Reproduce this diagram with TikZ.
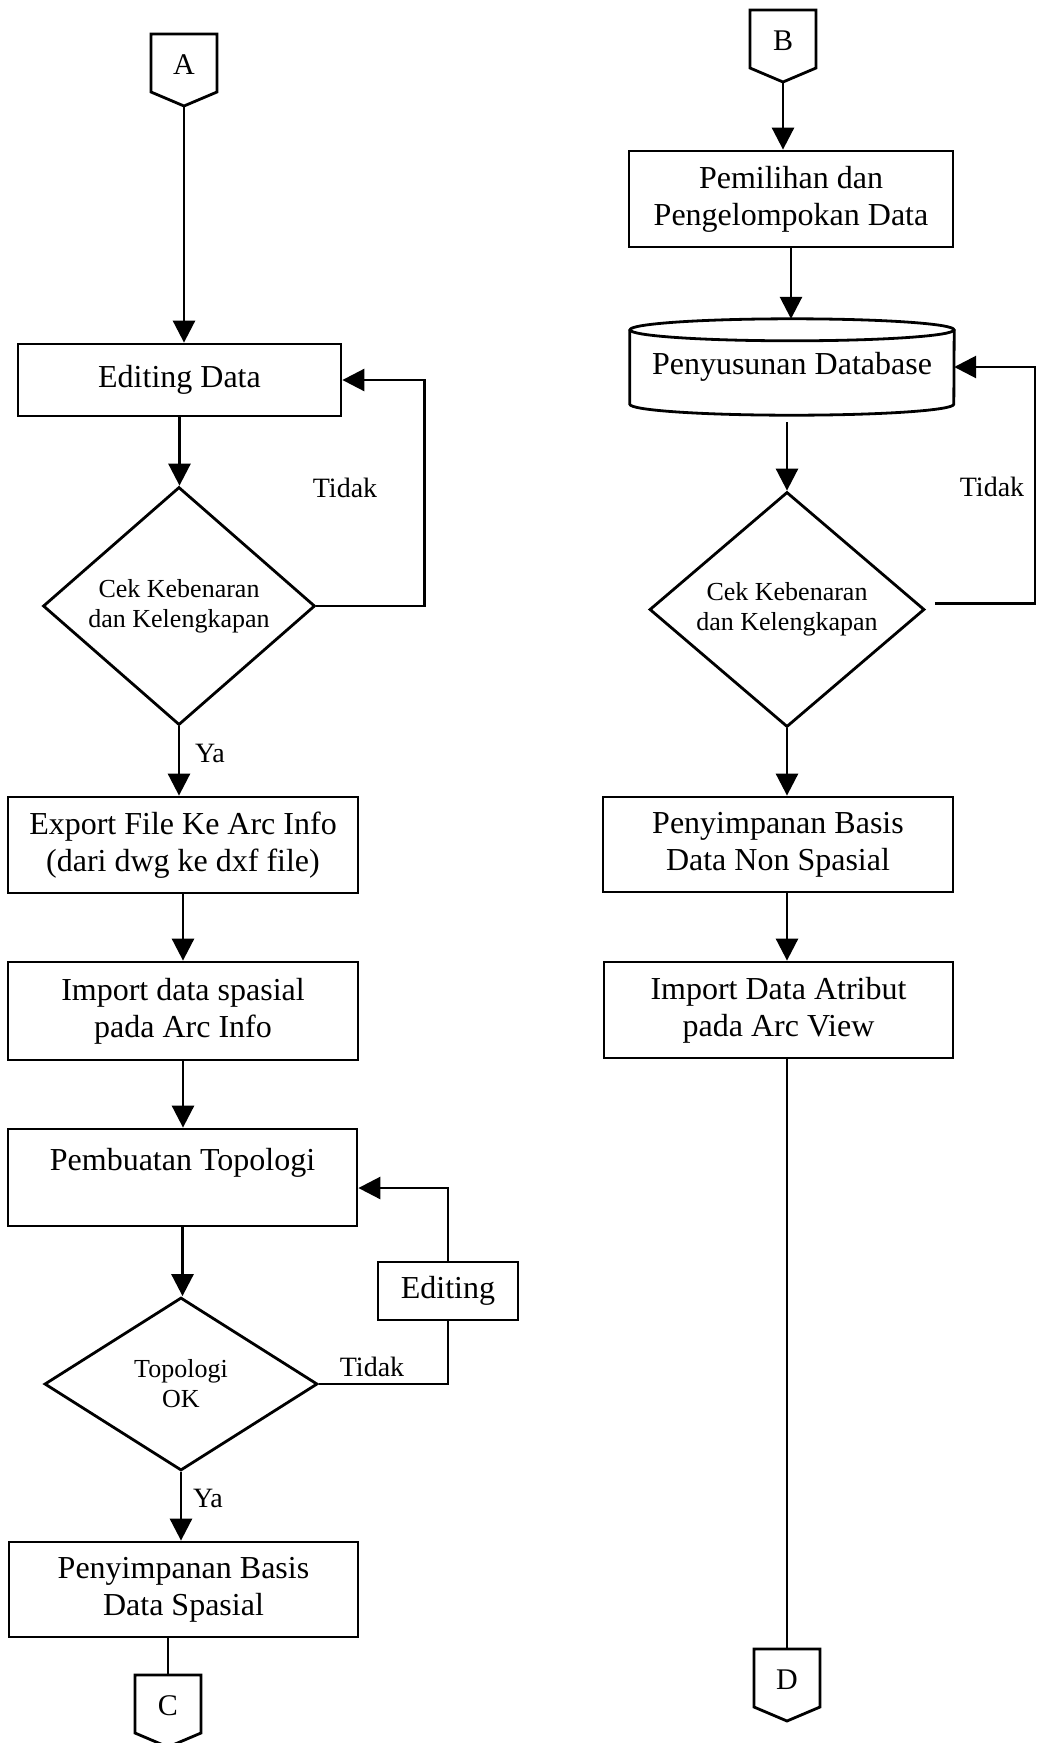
\documentclass[tikz,border=0pt]{standalone}
\usepackage{fontspec}
\setmainfont{Liberation Serif}
\usetikzlibrary{arrows.meta,shapes.geometric}

% off-page connector: name, centre x, top y, letter
\newcommand\offpage[4]{%
  \draw[line] (#2-33,#3) -- (#2+33,#3) -- (#2+33,#3+58) -- (#2,#3+72) -- (#2-33,#3+58) -- cycle;
  \node[conn] (#1) at (#2,#3+31) {#4};
  \coordinate (#1-top) at (#2,#3);
  \coordinate (#1-tip) at (#2,#3+72);
}

\begin{document}
\begin{tikzpicture}[x=1pt,y=-1pt,
  line/.style={line width=2.8pt},
  flow/.style={line, -{Triangle[length=22pt,width=22pt]}},
  proc/.style={draw, line, rectangle, inner sep=0pt, align=center,
               font=\fontsize{32}{37}\selectfont},
  decide/.style={draw, line, diamond, inner sep=0pt, align=center,
               font=\fontsize{26}{30}\selectfont},
  lbl/.style={font=\fontsize{28}{32}\selectfont, inner sep=0pt},
  conn/.style={font=\fontsize{30}{34}\selectfont, inner sep=0pt},
]
\fill[white] (0,0) rectangle (1037,1743);
\useasboundingbox (0,0) rectangle (1037,1743);

% ---------- left column: spatial data ----------
\offpage{A}{184}{34}{A}
\node[proc, minimum width=323, minimum height=72] (edit) at (179.5,380) {Editing Data};
\node[decide, minimum width=272, minimum height=238] (chk1) at (179,606) {Cek Kebenaran\\dan Kelengkapan};
\node[proc, minimum width=350, minimum height=96] (exp) at (183,845) {Export File Ke Arc Info\\(dari dwg ke dxf file)};
\node[proc, minimum width=350, minimum height=98] (imp) at (183,1011) {Import data spasial\\pada Arc Info};
\node[proc, minimum width=349, minimum height=97] (topo) at (182.5,1177.5) {Pembuatan Topologi\\[0pt]\mbox{}};
\node[decide, minimum width=273, minimum height=173] (tok) at (181,1384) {Topologi\\OK};
\node[proc, minimum width=140, minimum height=58] (edt) at (448,1291) {Editing};
\node[proc, minimum width=349, minimum height=95] (sps) at (183.5,1589.5) {Penyimpanan Basis\\Data Spasial};
\offpage{C}{168}{1675}{C}

\node[lbl] (t1) at (345,488) {Tidak};
\node[lbl] (y1) at (210,753) {Ya};
\node[lbl] (t3) at (372,1367) {Tidak};
\node[lbl] (y2) at (208,1498) {Ya};

\draw[flow] (A-tip) -- (A-tip |- edit.north);
\draw[flow] (edit.south) -- (edit.south |- chk1.north);
\draw[flow] (chk1.south) -- (chk1.south |- exp.north);
\draw[flow] (exp.south) -- (exp.south |- imp.north);
\draw[flow] (imp.south) -- (imp.south |- topo.north);
\draw[flow] (topo.south) -- (topo.south |- tok.north);
\draw[flow] (tok.south) -- (tok.south |- sps.north);
\draw[line] (C-top |- sps.south) -- (C-top);
\draw[flow] (chk1.east) -- ++(108,0) |- (edit.east);
\draw[line] (tok.east) -| (edt.south);
\draw[flow] (edt.north) |- ([yshift=-10.5pt]topo.east);

% ---------- right column: attribute data ----------
\offpage{B}{783}{10}{B}
\node[proc, minimum width=324, minimum height=96] (pil) at (791,199) {Pemilihan dan\\Pengelompokan Data};
\node[inner sep=0pt, minimum width=324, minimum height=96,
      font=\fontsize{32}{37}\selectfont] (db) at (792,367) {Penyusunan Database};
\draw[line] ([yshift=-11pt]db.north) ellipse [x radius=162pt, y radius=11pt];
\draw[line] ([yshift=-11pt]db.north west) -- ([yshift=11pt]db.south west)
  arc[start angle=180, end angle=360, x radius=162pt, y radius=11pt]
  -- ([yshift=-11pt]db.north east);
\node[decide, minimum width=275, minimum height=235] (chk2) at (787,609.5) {Cek Kebenaran\\dan Kelengkapan};
\node[proc, minimum width=350, minimum height=95] (nsp) at (778,844.5) {Penyimpanan Basis\\Data Non Spasial};
\node[proc, minimum width=349, minimum height=96] (atr) at (778.5,1010) {Import Data Atribut\\pada Arc View};
\offpage{D}{787}{1649}{D}
\coordinate (redge) at (1035,0);

\node[lbl] (t2) at (992,487) {Tidak};

\draw[flow] (B-tip) -- (B-tip |- pil.north);
\draw[flow] (pil.south) -- (pil.south |- db.north);
\draw[flow, shorten <=7pt] (chk2.north |- db.south) -- (chk2.north);
\draw[flow] (chk2.south) -- (chk2.south |- nsp.north);
\draw[flow] (chk2.south |- nsp.south) -- (chk2.south |- atr.north);
\draw[line] (D-top |- atr.south) -- (D-top);
\draw[flow] ([xshift=9pt,yshift=6pt]chk2.east) -| (redge |- db.east) -- (db.east);
\end{tikzpicture}
\end{document}
